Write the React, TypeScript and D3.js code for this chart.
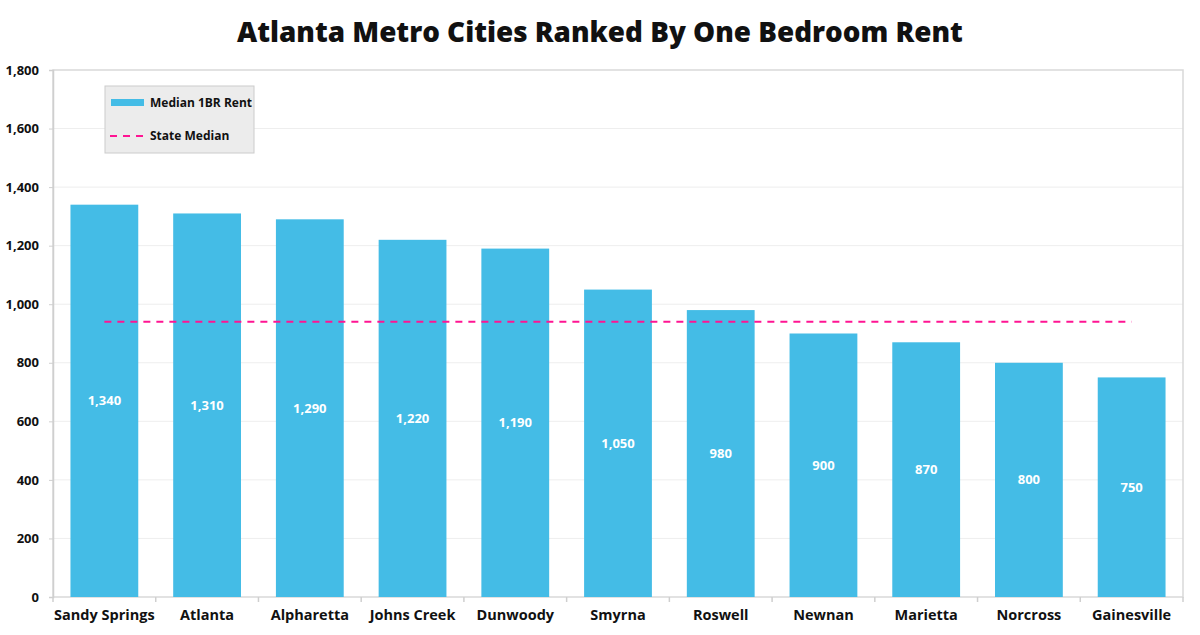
import * as d3 from "d3"
import { useEffect, useRef } from "react"

const cities = [
  "Sandy Springs",
  "Atlanta",
  "Alpharetta",
  "Johns Creek",
  "Dunwoody",
  "Smyrna",
  "Roswell",
  "Newnan",
  "Marietta",
  "Norcross",
  "Gainesville",
]
const rents = [1340, 1310, 1290, 1220, 1190, 1050, 980, 900, 870, 800, 750]
const stateMedian = 940
const yTicks = [0, 200, 400, 600, 800, 1000, 1200, 1400, 1600, 1800]

const FONT = "'Open Sans', Lato, sans-serif"
const BAR = "#44bce6"
const PINK = "#ff1493"

const App = () => {
  const svgRef = useRef<SVGSVGElement | null>(null)

  useEffect(() => {
    if (!svgRef.current) return
    d3.select(svgRef.current).selectAll("*").remove()

    const W = 1200
    const H = 635
    const margin = { top: 70, right: 17, bottom: 38, left: 53 }
    const width = W - margin.left - margin.right
    const height = H - margin.top - margin.bottom

    const svg = d3
      .select(svgRef.current)
      .attr("width", W)
      .attr("height", H)
      .style("font-family", FONT)

    svg.append("rect").attr("width", W).attr("height", H).attr("fill", "#fff")

    // Title
    svg
      .append("text")
      .attr("x", W / 2)
      .attr("y", 42)
      .attr("text-anchor", "middle")
      .style("font-size", "27.8px")
      .style("font-weight", "800")
      .attr("fill", "#111")
      .text("Atlanta Metro Cities Ranked By One Bedroom Rent")

    const g = svg
      .append("g")
      .attr("transform", `translate(${margin.left},${margin.top})`)

    const x = d3.scaleBand().domain(cities).range([0, width]).paddingInner(0.34).paddingOuter(0.17)
    const y = d3.scaleLinear().domain([0, 1800]).range([height, 0])

    // Gridlines
    g.selectAll(".grid")
      .data(yTicks.filter(t => t > 0 && t < 1800))
      .enter()
      .append("line")
      .attr("x1", 0)
      .attr("x2", width)
      .attr("y1", d => y(d))
      .attr("y2", d => y(d))
      .attr("stroke", "#eeeeee")
      .attr("stroke-width", 1)

    // Plot frame
    g.append("rect")
      .attr("x", 0)
      .attr("y", 0)
      .attr("width", width)
      .attr("height", height)
      .attr("fill", "none")
      .attr("stroke", "#d9d9d9")
      .attr("stroke-width", 1.5)

    // Bars
    g.selectAll(".bar")
      .data(rents)
      .enter()
      .append("rect")
      .attr("x", (d, i) => x(cities[i])!)
      .attr("y", d => y(d))
      .attr("width", x.bandwidth())
      .attr("height", d => height - y(d))
      .attr("fill", BAR)

    // Bar labels
    g.selectAll(".lbl")
      .data(rents)
      .enter()
      .append("text")
      .attr("x", (d, i) => x(cities[i])! + x.bandwidth() / 2)
      .attr("y", d => (y(d) + height) / 2)
      .attr("dy", "0.35em")
      .attr("text-anchor", "middle")
      .attr("fill", "#fff")
      .style("font-size", "13px")
      .style("font-weight", "700")
      .text(d => d3.format(",")(d))

    // State median line
    g.append("line")
      .attr("x1", x(cities[0])! + x.bandwidth() / 2)
      .attr("x2", x(cities[cities.length - 1])! + x.bandwidth() / 2)
      .attr("y1", y(stateMedian))
      .attr("y2", y(stateMedian))
      .attr("stroke", PINK)
      .attr("stroke-width", 2)
      .attr("stroke-dasharray", "7 6")

    // Y axis
    const yAxis = g
      .append("g")
      .call(d3.axisLeft(y).tickValues(yTicks).tickSize(4).tickPadding(10).tickFormat(d3.format(",")))
    yAxis.select(".domain").attr("stroke", "#cfcfcf").attr("stroke-width", 1.5)
    yAxis.selectAll(".tick line").attr("stroke", "#cfcfcf")
    yAxis
      .selectAll(".tick text")
      .attr("fill", "#111")
      .style("font-size", "13px")
      .style("font-weight", "700")
      .style("font-family", FONT)

    // X axis
    const xAxis = g
      .append("g")
      .attr("transform", `translate(0,${height})`)
      .call(d3.axisBottom(x).tickSize(0).tickPadding(13))
    xAxis.select(".domain").remove()
    xAxis
      .selectAll(".tick text")
      .attr("fill", "#111")
      .style("font-size", "14.5px")
      .style("font-weight", "700")
      .style("font-family", FONT)
    // boundary ticks between categories
    const step = x.step()
    const bounds = d3.range(cities.length + 1).map(i => i * step)
    g.selectAll(".xtick")
      .data(bounds)
      .enter()
      .append("line")
      .attr("x1", d => d)
      .attr("x2", d => d)
      .attr("y1", height)
      .attr("y2", height + 5)
      .attr("stroke", "#cfcfcf")
      .attr("stroke-width", 1.5)

    // Legend
    const lg = svg.append("g").attr("transform", "translate(105,86)")
    lg.append("rect")
      .attr("width", 149)
      .attr("height", 67)
      .attr("fill", "#ececec")
      .attr("stroke", "#cccccc")
      .attr("stroke-width", 1)
    lg.append("rect")
      .attr("x", 6)
      .attr("y", 13)
      .attr("width", 33)
      .attr("height", 7)
      .attr("fill", BAR)
    lg.append("line")
      .attr("x1", 5)
      .attr("x2", 39)
      .attr("y1", 50)
      .attr("y2", 50)
      .attr("stroke", PINK)
      .attr("stroke-width", 2)
      .attr("stroke-dasharray", "7 6")
    const legendItems = ["Median 1BR Rent", "State Median"]
    lg.selectAll(".lt")
      .data(legendItems)
      .enter()
      .append("text")
      .attr("x", 45)
      .attr("y", (d, i) => 17 + i * 33)
      .attr("dy", "0.35em")
      .attr("fill", "#111")
      .style("font-size", "12px")
      .style("font-weight", "700")
      .text(d => d)
  }, [])

  return <svg ref={svgRef} style={{ display: "block", position: "absolute", left: 0, top: 0 }} />
}

export default App
